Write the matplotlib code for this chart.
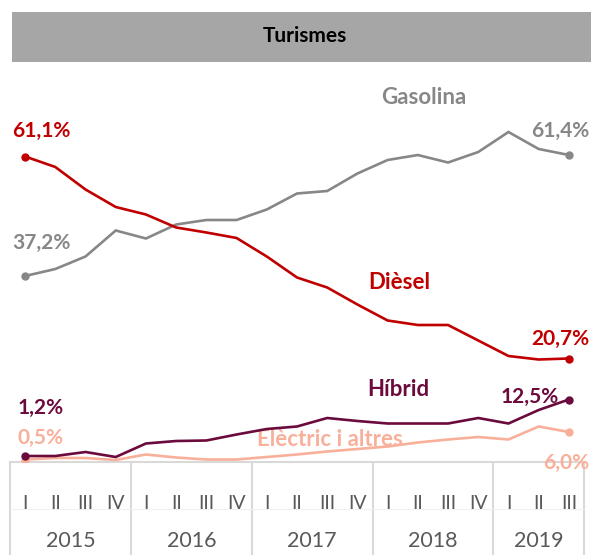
import numpy as np
import matplotlib.pyplot as plt
from matplotlib.patches import Rectangle
import matplotlib.transforms as mtransforms

plt.rcParams['font.family'] = ['Lato', 'DejaVu Sans']

# =============================================================================
# Data (share of registrations, %)
# =============================================================================
quarters = ['I', 'II', 'III', 'IV'] * 4 + ['I', 'II', 'III']
years = ['2015', '2016', '2017', '2018', '2019']
year_len = [4, 4, 4, 4, 3]

gasolina = [37.2, 38.6, 41.1, 46.3, 44.7, 47.5, 48.4, 48.4, 50.5, 53.7,
            54.2, 57.7, 60.4, 61.4, 59.9, 62.0, 66.0, 62.6, 61.4]
diesel = [61.1, 59.0, 54.5, 51.0, 49.5, 46.9, 45.9, 44.8, 41.1, 36.9,
          34.9, 31.5, 28.3, 27.4, 27.4, 24.3, 21.2, 20.5, 20.7]
hibrid = [1.2, 1.2, 2.0, 1.0, 3.7, 4.2, 4.3, 5.5, 6.6, 7.1,
          8.8, 8.2, 7.7, 7.7, 7.7, 8.8, 7.7, 10.4, 12.5]
electric = [0.5, 0.8, 0.8, 0.4, 1.5, 0.9, 0.5, 0.5, 1.0, 1.5,
            2.1, 2.6, 3.1, 3.9, 4.5, 5.0, 4.5, 7.1, 6.0]

c_gas = '#878787'
c_die = '#C00000'
c_hib = '#6B0A3C'
c_ele = '#F9B09A'
c_axis = '#D9D9D9'

# =============================================================================
# Figure
# =============================================================================
fig = plt.figure(figsize=(5.91, 5.55), dpi=100)

# title bar
fig.patches.append(Rectangle((12/591, 1-62/555), 1-12/591, 50/555,
                             transform=fig.transFigure, facecolor='#A6A6A6',
                             edgecolor='none', zorder=0))
fig.text(0.516, 1-36/555, 'Turismes', ha='center', va='center',
         fontsize=15, fontweight='bold', color='black')

ax = fig.add_axes([10/591, 1-462/555, 574/591, 390/555])
x = np.arange(len(quarters))

series = [(electric, c_ele), (hibrid, c_hib), (gasolina, c_gas), (diesel, c_die)]
for vals, col in series:
    ax.plot(x, vals, color=col, lw=1.9, solid_joinstyle='miter', zorder=3)
    ax.plot([x[0], x[-1]], [vals[0], vals[-1]], 'o', color=col, ms=5, zorder=4)

ax.set_xlim(-0.5, len(quarters)-0.5)
ax.set_ylim(0, 78)
for s in ['top', 'left', 'right']:
    ax.spines[s].set_visible(False)
ax.spines['bottom'].set_color(c_axis)
ax.spines['bottom'].set_linewidth(1.5)
ax.set_yticks([])
ax.set_xticks(x)
ax.set_xticklabels(quarters, fontsize=14, color='#595959')
ax.tick_params(axis='x', length=0, pad=24)

# category box: separators and year labels
trans = mtransforms.blended_transform_factory(ax.transData, ax.transAxes)
bounds = np.concatenate(([0], np.cumsum(year_len))) - 0.5
for b in bounds:
    ax.plot([b, b], [0, -93/390], color=c_axis, lw=1.5, transform=trans,
            clip_on=False, zorder=1)
ax.plot([bounds[0], bounds[-1]], [-47/390, -47/390], color='#F0F0F0', lw=0.8,
        transform=trans, clip_on=False, zorder=1)
for i, yr in enumerate(years):
    ax.text((bounds[i]+bounds[i+1])/2, -79/390, yr, transform=trans,
            ha='center', va='center', fontsize=15.5, color='#595959')

# value labels
lab = dict(fontsize=15, fontweight='bold')
ax.text(0.55, 66.3, '61,1%', color=c_die, ha='center', va='center', **lab)
ax.text(0.55, 43.8, '37,2%', color=c_gas, ha='center', va='center', **lab)
ax.text(17.7, 66.3, '61,4%', color=c_gas, ha='center', va='center', **lab)
ax.text(17.7, 24.7, '20,7%', color=c_die, ha='center', va='center', **lab)
ax.text(0.5, 10.9, '1,2%', color=c_hib, ha='center', va='center', **lab)
ax.text(16.7, 13.1, '12,5%', color=c_hib, ha='center', va='center', **lab)
ax.text(0.5, 4.9, '0,5%', color=c_ele, ha='center', va='center', **lab)
ax.text(17.9, -0.1, '6,0%', color=c_ele, ha='center', va='center', **lab)

# series names
name = dict(fontsize=16, fontweight='bold')
ax.text(13.2, 72.9, 'Gasolina', color=c_gas, ha='center', va='center', **name)
ax.text(12.4, 35.9, 'Dièsel', color=c_die, ha='center', va='center', **name)
ax.text(12.35, 14.5, 'Híbrid', color=c_hib, ha='center', va='center', **name)
ax.text(10.1, 4.5, 'Elèctric i altres', color=c_ele, ha='center', va='center',
        zorder=2, **name)

plt.savefig('out.png', dpi=100)
